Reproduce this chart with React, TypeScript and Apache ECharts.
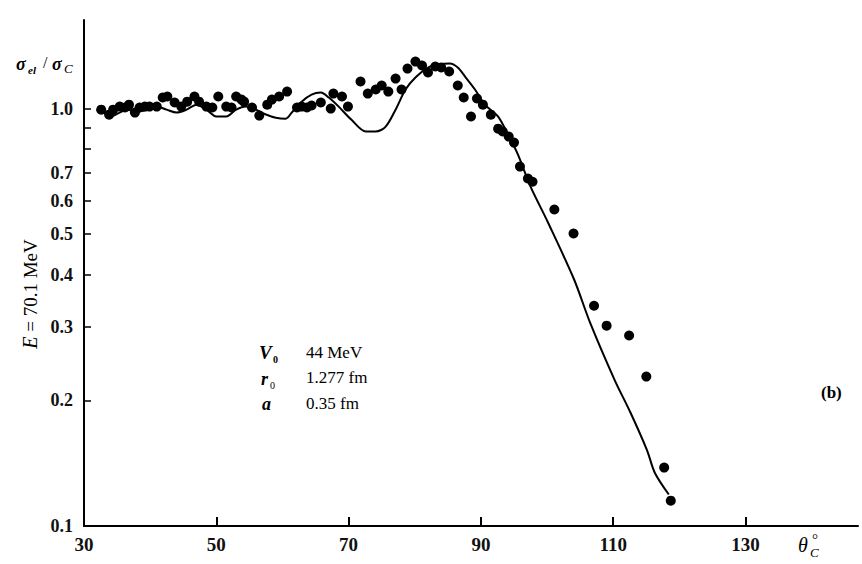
import React, { useEffect, useRef } from "react";
import * as echarts from "echarts";

// Scattered data: scattering angle (deg) vs sigma_el / sigma_C
const dataX: number[] = [
  32.6, 33.8, 34.4, 35.4, 36.2, 36.8, 37.7, 38.4, 39.2, 39.9, 41.0, 41.9, 42.6, 43.7, 44.7,
  45.6, 46.7, 47.4, 48.5, 49.4, 50.3, 51.5, 52.3, 53.0, 53.8, 54.2, 55.4, 56.5, 57.7, 58.4,
  59.5, 60.7, 62.2, 62.9, 63.7, 64.4, 65.8, 67.3, 67.7, 69.0, 69.9, 71.8, 72.9, 74.1, 75.0,
  76.0, 77.1, 78.0, 78.9, 80.1, 81.1, 82.0, 83.1, 84.0, 85.2, 86.5, 87.4, 88.5, 89.4, 90.3,
  91.5, 92.6, 93.3, 94.2, 95.0, 95.9, 97.1, 97.8, 101.1, 104.0, 107.1, 109.0, 112.4, 115.0,
  117.7, 118.7,
];
const dataY: number[] = [
  0.994, 0.967, 0.994, 1.011, 1.006, 1.022, 0.978, 1.006, 1.011, 1.011, 1.011, 1.063, 1.069, 1.034, 1.011,
  1.039, 1.069, 1.039, 1.011, 1.006, 1.069, 1.011, 1.006, 1.069, 1.051, 1.039, 1.006, 0.962, 1.022, 1.051,
  1.069, 1.098, 1.006, 1.011, 1.006, 1.017, 1.034, 1.0, 1.086, 1.069, 1.011, 1.161, 1.086, 1.111, 1.136,
  1.098, 1.18, 1.111, 1.247, 1.296, 1.268, 1.22, 1.261, 1.254, 1.227, 1.136, 1.063, 0.957, 1.057, 1.022,
  0.967, 0.895, 0.881, 0.857, 0.829, 0.726, 0.68, 0.668, 0.573, 0.502, 0.337, 0.302, 0.286, 0.228,
  0.138, 0.115,
];

// Optical-model calculation (solid curve)
const curveX: number[] = [
  31.9, 32.9, 33.9, 35.4, 36.5, 38.0, 39.5, 41.0, 42.5, 44.0, 45.5, 47.0, 48.5, 50.0, 51.5,
  53.0, 54.5, 56.0, 57.5, 59.0, 60.5, 61.4, 62.9, 64.4, 65.8, 67.0, 68.5, 70.4, 72.6, 74.1,
  75.6, 77.1, 78.6, 80.1, 82.0, 83.5, 85.3, 86.5, 87.6, 89.1, 90.6, 92.6, 94.1, 95.6, 97.5,
  100.1, 104.1, 106.5, 110.2, 112.6, 115.1, 116.3, 118.4,
];
const curveY: number[] = [
  0.994, 0.978, 0.957, 0.978, 0.994, 0.984, 0.994, 1.011, 0.994, 0.978, 0.994, 1.022, 0.994, 0.957, 0.957,
  0.994, 1.011, 0.994, 0.968, 0.951, 0.946, 0.978, 1.039, 1.08, 1.092, 1.063, 1.011, 0.941, 0.881, 0.881,
  0.905, 0.994, 1.111, 1.187, 1.254, 1.275, 1.282, 1.254, 1.193, 1.111, 1.022, 0.957, 0.866, 0.776, 0.65,
  0.535, 0.389, 0.307, 0.224, 0.187, 0.152, 0.134, 0.119,
];

const xTickValues: number[] = [50, 70, 90, 110, 130];
const xLabelValues: number[] = [30, 50, 70, 90, 110, 130];
const yTickValues: number[] = [0.2, 0.3, 0.4, 0.5, 0.6, 0.7, 0.8, 0.9, 1.0];
const yLabelValues: number[] = [0.1, 0.2, 0.3, 0.4, 0.5, 0.6, 0.7, 1.0];

const SERIF = "'Liberation Serif', 'DejaVu Serif', serif";

export default function App() {
  const ref = useRef<HTMLDivElement>(null);
  useEffect(() => {
    if (!ref.current) return;
    const chart = echarts.init(ref.current, null, { renderer: "svg" });
    const scatterData = dataX.map((x, i) => [x, dataY[i]]);
    const curveData = curveX.map((x, i) => [x, curveY[i]]);
    chart.setOption({
      animation: false,
      backgroundColor: "#fff",
      grid: {
        left: 84,
        right: 4,
        top: 20,
        bottom: 38,
        containLabel: false,
        outerBoundsMode: "none",
      },
      xAxis: {
        type: "value",
        min: 30,
        max: 147,
        axisLine: { show: true, lineStyle: { color: "#000", width: 2 } },
        axisTick: {
          show: true,
          inside: true,
          length: 9,
          lineStyle: { color: "#000", width: 2 },
          customValues: xTickValues,
        },
        axisLabel: {
          color: "#111",
          fontFamily: SERIF,
          fontSize: 19,
          fontWeight: "bold",
          margin: 9,
          customValues: xLabelValues,
          formatter: (v: number) => String(Math.round(v)),
        },
        splitLine: { show: false },
      },
      yAxis: {
        type: "log",
        logBase: 10,
        min: 0.1,
        max: 1.63,
        axisLine: { show: true, lineStyle: { color: "#000", width: 2 } },
        axisTick: {
          show: true,
          inside: true,
          length: 7,
          lineStyle: { color: "#000", width: 1.5 },
          customValues: yTickValues,
        },
        minorTick: { show: false },
        axisLabel: {
          color: "#111",
          fontFamily: SERIF,
          fontSize: 18,
          fontWeight: "bold",
          margin: 11,
          customValues: yLabelValues,
          formatter: (v: number) => Number(v).toFixed(1),
        },
        splitLine: { show: false },
      },
      series: [
        {
          type: "line",
          data: curveData,
          showSymbol: false,
          smooth: 0.3,
          lineStyle: { color: "#000", width: 2 },
          z: 2,
        },
        {
          type: "scatter",
          data: scatterData,
          symbol: "circle",
          symbolSize: 10,
          itemStyle: { color: "#000", opacity: 1 },
          z: 3,
        },
      ],
      graphic: [
        // y-axis quantity
        { type: "text", x: 16, y: 55, style: { text: "σ", font: `italic bold 18px ${SERIF}`, fill: "#000" } },
        { type: "text", x: 28, y: 64, style: { text: "el", font: `italic bold 11px ${SERIF}`, fill: "#000" } },
        { type: "text", x: 43, y: 54, style: { text: "/", font: `16px ${SERIF}`, fill: "#000" } },
        { type: "text", x: 52, y: 55, style: { text: "σ", font: `italic bold 18px ${SERIF}`, fill: "#000" } },
        { type: "text", x: 64, y: 62, style: { text: "C", font: `italic 13px ${SERIF}`, fill: "#000" } },
        // vertical energy label
        {
          type: "text",
          x: 30,
          y: 294,
          rotation: Math.PI / 2,
          style: {
            text: "{i|E}{n| = 70.1 MeV}",
            align: "center",
            verticalAlign: "middle",
            fill: "#000",
            rich: {
              i: { font: `italic 20px ${SERIF}`, fill: "#000" },
              n: { font: `19px ${SERIF}`, fill: "#000" },
            },
          },
        },
        // parameter table
        { type: "text", x: 259, y: 343, style: { text: "V", font: `italic bold 19px ${SERIF}`, fill: "#000" } },
        { type: "text", x: 273, y: 354, style: { text: "0", font: `bold 10px ${SERIF}`, fill: "#000" } },
        { type: "text", x: 306, y: 344, style: { text: "44 MeV", font: `17px ${SERIF}`, fill: "#000" } },
        { type: "text", x: 261, y: 370, style: { text: "r", font: `italic bold 18px ${SERIF}`, fill: "#000" } },
        { type: "text", x: 270, y: 380, style: { text: "0", font: `10px ${SERIF}`, fill: "#000" } },
        { type: "text", x: 306, y: 369, style: { text: "1.277 fm", font: `17px ${SERIF}`, fill: "#000" } },
        { type: "text", x: 262, y: 395, style: { text: "a", font: `italic bold 18px ${SERIF}`, fill: "#000" } },
        { type: "text", x: 306, y: 395, style: { text: "0.35 fm", font: `17px ${SERIF}`, fill: "#000" } },
        // panel label
        { type: "text", x: 821, y: 384, style: { text: "(b)", font: `bold 17px ${SERIF}`, fill: "#000" } },
        // x-axis quantity
        { type: "text", x: 798, y: 535, style: { text: "θ", font: `italic 20px ${SERIF}`, fill: "#000" } },
        { type: "text", x: 810, y: 546, style: { text: "C", font: `italic 13px ${SERIF}`, fill: "#000" } },
        { type: "text", x: 812, y: 531, style: { text: "°", font: `15px ${SERIF}`, fill: "#000" } },
      ],
    });
    return () => chart.dispose();
  }, []);
  return (
    <div
      ref={ref}
      style={{ position: "absolute", left: 0, top: 0, width: 862, height: 564, background: "#fff" }}
    />
  );
}
